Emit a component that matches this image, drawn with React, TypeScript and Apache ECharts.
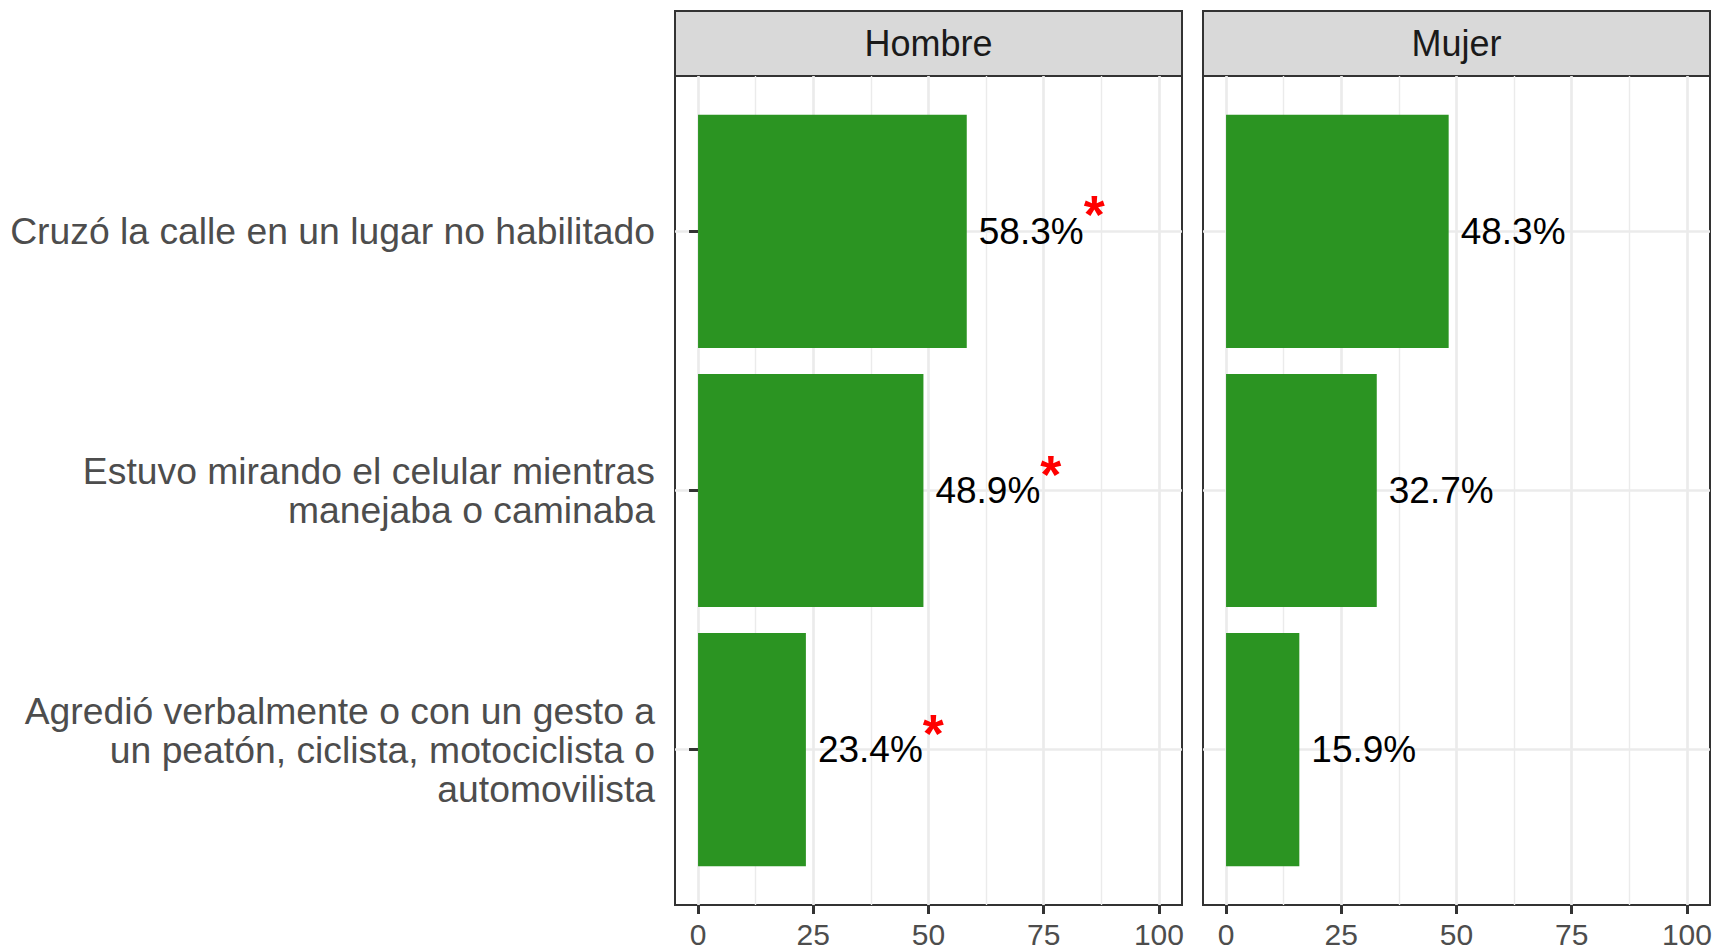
import React, { useEffect, useRef } from "react";
import * as echarts from "echarts";

const categories = [
  "Cruzó la calle en un lugar no habilitado",
  "Estuvo mirando el celular mientras\nmanejaba o caminaba",
  "Agredió verbalmente o con un gesto a\nun peatón, ciclista, motociclista o\nautomovilista",
];
const panels = ["Hombre", "Mujer"];
const hombreValues = [58.3, 48.9, 23.4];
const mujerValues = [48.3, 32.7, 15.9];
const hombreSignificant = [1, 1, 1];
const mujerSignificant = [0, 0, 0];
const xTicks = [0, 25, 50, 75, 100];
const xMinorTicks = [12.5, 37.5, 62.5, 87.5];

const FONT = "'Liberation Sans', Arial, Helvetica, sans-serif";
const GREEN = "#2b9422";
const W = 1717;
const H = 950;
const PANEL_LEFT = [675, 1203];
const PANEL_W = 507;
const PANEL_TOP = 76;
const PANEL_H = 829;
const STRIP_TOP = 11;

export default function App() {
  const ref = useRef<HTMLDivElement>(null);
  useEffect(() => {
    document.body.style.margin = "0";
    if (!ref.current) return;
    const chart = echarts.init(ref.current, null, { renderer: "svg" });
    const values = [hombreValues, mujerValues];
    const sigs = [hombreSignificant, mujerSignificant];
    const catPos = categories.map((_, i) => i + 1);

    const grids: any[] = [];
    const xAxes: any[] = [];
    const yAxes: any[] = [];
    const series: any[] = [];
    const graphics: any[] = [];

    panels.forEach((name, p) => {
      grids.push({
        left: PANEL_LEFT[p],
        top: PANEL_TOP,
        width: PANEL_W,
        height: PANEL_H,
        show: true,
        backgroundColor: "#ffffff",
        borderColor: "#333333",
        borderWidth: 2,
        containLabel: false,
      });
      xAxes.push({
        type: "value",
        gridIndex: p,
        min: -5,
        max: 105,
        position: "bottom",
        axisLine: { show: false },
        axisTick: {
          show: true,
          customValues: xTicks,
          length: 9,
          lineStyle: { color: "#333333", width: 3 },
        },
        axisLabel: {
          show: true,
          customValues: xTicks,
          fontSize: 30,
          fontFamily: FONT,
          color: "#4d4d4d",
          margin: 14,
        },
        splitLine: { show: true, lineStyle: { color: "#ebebeb", width: 2.7 } },
      });
      xAxes.push({
        type: "value",
        gridIndex: p,
        min: -5,
        max: 105,
        position: "top",
        axisLine: { show: false },
        axisTick: { show: false, customValues: xMinorTicks },
        axisLabel: { show: false, customValues: xMinorTicks },
        splitLine: { show: true, lineStyle: { color: "#ebebeb", width: 1.4 } },
      });
      yAxes.push({
        type: "value",
        gridIndex: p,
        min: 0.4,
        max: 3.6,
        inverse: true,
        axisLine: { show: false },
        axisTick: {
          show: p === 0,
          customValues: catPos,
          length: 9,
          lineStyle: { color: "#333333", width: 3 },
        },
        axisLabel: {
          show: p === 0,
          customValues: catPos,
          formatter: (v: number) => categories[Math.round(v) - 1] ?? "",
          fontSize: 37.3,
          lineHeight: 39,
          fontFamily: FONT,
          color: "#4d4d4d",
          align: "right",
          margin: 20,
        },
        splitLine: { show: true, lineStyle: { color: "#ebebeb", width: 2.7 } },
      });
      series.push({
        type: "custom",
        xAxisIndex: p * 2,
        yAxisIndex: p,
        clip: false,
        encode: { x: 0, y: 1 },
        data: values[p].map((v, k) => [v, catPos[k], sigs[p][k]]),
        renderItem: (params: any, api: any) => {
          const v = api.value(0);
          const y = api.value(1);
          const sig = api.value(2);
          const start = api.coord([0, y]);
          const end = api.coord([v, y]);
          const h = api.size([0, 0.9])[1];
          const txt = sig ? `{v|${v.toFixed(1)}%}{s|*}` : `{v|${v.toFixed(1)}%}`;
          return {
            type: "group",
            children: [
              {
                type: "rect",
                shape: { x: start[0], y: start[1] - h / 2, width: end[0] - start[0], height: h },
                style: { fill: GREEN },
              },
              {
                type: "text",
                x: end[0] + 12,
                y: end[1],
                style: {
                  text: txt,
                  align: "left",
                  verticalAlign: "middle",
                  rich: {
                    v: { fontSize: 37, fontFamily: FONT, fill: "#000000", lineHeight: 44 },
                    s: {
                      fontSize: 54,
                      fontWeight: "bold",
                      fontFamily: FONT,
                      fill: "#ff0000",
                      lineHeight: 44,
                      padding: [0, 0, 34, 0],
                    },
                  },
                },
              },
            ],
          };
        },
      });
      graphics.push({
        type: "group",
        z: 100,
        children: [
          {
            type: "rect",
            shape: { x: PANEL_LEFT[p], y: STRIP_TOP, width: PANEL_W, height: PANEL_TOP - STRIP_TOP },
            style: { fill: "#d9d9d9", stroke: "#333333", lineWidth: 2 },
          },
          {
            type: "text",
            x: PANEL_LEFT[p] + PANEL_W / 2,
            y: (STRIP_TOP + PANEL_TOP) / 2,
            style: {
              text: name,
              fontSize: 36,
              fontFamily: FONT,
              fill: "#1a1a1a",
              align: "center",
              verticalAlign: "middle",
            },
          },
        ],
      });
    });

    chart.setOption({
      animation: false,
      backgroundColor: "#ffffff",
      grid: grids,
      xAxis: xAxes,
      yAxis: yAxes,
      series,
      graphic: graphics,
    });
    return () => chart.dispose();
  }, []);
  return <div ref={ref} style={{ width: W, height: H }} />;
}
